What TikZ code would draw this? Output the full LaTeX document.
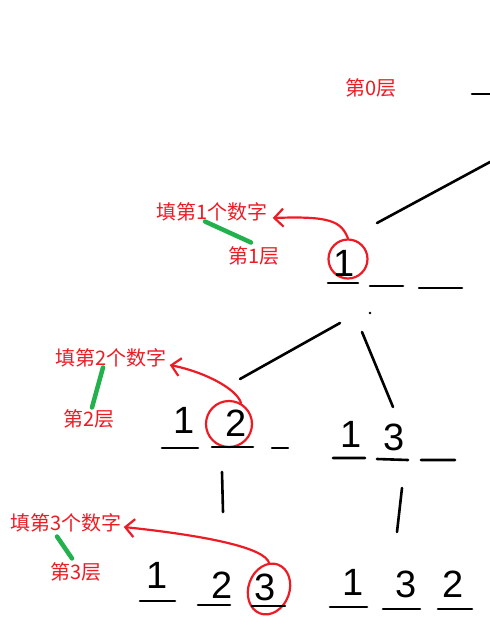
\documentclass[tikz,border=0pt]{standalone}
\usepackage{fontspec}
\newfontfamily\cjk{Noto Sans CJK SC}
\newfontfamily\hand{Liberation Sans}
\usetikzlibrary{arrows.meta,shapes.geometric}
\definecolor{paintred}{RGB}{237,28,36}
\definecolor{paintgreen}{RGB}{34,177,76}

\begin{document}
\begin{tikzpicture}[x=1pt,y=-1pt,line cap=round,
                    note/.style={text=paintred,font=\cjk\fontsize{20}{24}\selectfont,inner sep=0pt},
                    digit/.style={font=\hand\fontsize{38}{40}\selectfont,inner sep=0pt},
                    slot/.style={line width=2.6pt},
                    branch/.style={line width=2.6pt},
                    ring/.style={circle,draw=paintred,line width=2.2pt,inner sep=0pt},
                    hint/.style={paintred,line width=2.2pt,-{Straight Barb[length=9pt,width=18pt]}},
                    tie/.style={paintgreen,line width=4.5pt}]
  \useasboundingbox (0,0) rectangle (490,643);

  % labels
  \node[note] (l0) at (371,88) {第0层};
  \node[note] (t1) at (212,212) {填第1个数字};
  \node[note] (s1) at (254,256) {第1层};
  \node[note] (t2) at (111,358) {填第2个数字};
  \node[note] (s2) at (89,419) {第2层};
  \node[note] (t3) at (66,523) {填第3个数字};
  \node[note] (s3) at (76,572) {第3层};

  % circled choices
  \node[ring,minimum size=39pt] (c1) at (348,259) {};
  \node[ring,minimum size=46pt] (c2) at (229,424) {};
  \node[ring,ellipse,minimum width=52pt,minimum height=41pt,rotate=70] (c3) at (269,589) {};

  % digits
  \node[digit] (d1) at (344,263) {1};
  \node[digit] (d21) at (184,420) {1};
  \node[digit] (d22) at (236,423) {2};
  \node[digit] (d31) at (351,434) {1};
  \node[digit] (d33) at (394,437) {3};
  \node[digit] (e1) at (157,575) {1};
  \node[digit] (e2) at (222,585) {2};
  \node[digit] (e3) at (265,587) {3};
  \node[digit] (f1) at (353,582) {1};
  \node[digit] (f3) at (406,584) {3};
  \node[digit] (f2) at (453,584) {2};

  % blanks
  \draw[slot] (472,94) -- (490,94);
  \draw[slot] (328,283) -- (358,283) (370,286) -- (403,286) (419,288) -- (462,288);
  \draw[slot] (162,448) -- (198,448) (212,447) -- (253,447) (272,448) -- (288,448);
  \draw[slot] (333,458) -- (365,458) (377,459) -- (408,460) (421,460) -- (455,460);
  \draw[slot] (140,601) -- (175,601) (198,605) -- (230,605) (252,606) -- (285,606);
  \draw[slot] (330,607) -- (367,607) (383,609) -- (420,609) (438,609) -- (472,609);

  % tree
  \coordinate (r0) at (490,162);
  \coordinate (p1) at (377,223);
  \coordinate (q1) at (340,323);
  \coordinate (q2) at (362,332);
  \coordinate (p2) at (240,379);
  \coordinate (p3) at (393,407);
  \coordinate (u1) at (222,472);
  \coordinate (u2) at (223,512);
  \coordinate (v1) at (402,488);
  \coordinate (v2) at (397,532);
  \path[branch]
    (p1) edge (r0)
    (q1) edge (p2)
    (q2) edge (p3)
    (u1) edge (u2)
    (v1) edge (v2);
  \fill (370,313) circle (1.3pt);

  % hints
  \draw[hint] (c1.north) .. controls (341,221) and (330,216) .. ([xshift=5pt,yshift=-6pt]t1.east);
  \draw[hint] (c2.60) .. controls (237,389) and (205,372) .. ([xshift=3pt,yshift=-7pt]t2.east);
  \draw[hint] ([xshift=-9pt]c3.east) .. controls (266,547) and (200,535) .. ([xshift=2pt,yshift=-4pt]t3.east);

  \draw[tie] ([xshift=-7pt]t1.south) -- ([xshift=-3pt,yshift=4pt]s1.north);
  \draw[tie] ([xshift=-8pt]t2.south) -- ([xshift=3pt,yshift=2pt]s2.north);
  \draw[tie] ([xshift=-9pt,yshift=-4pt]t3.south) -- ([xshift=-4pt,yshift=4pt]s3.north);
\end{tikzpicture}
\end{document}
